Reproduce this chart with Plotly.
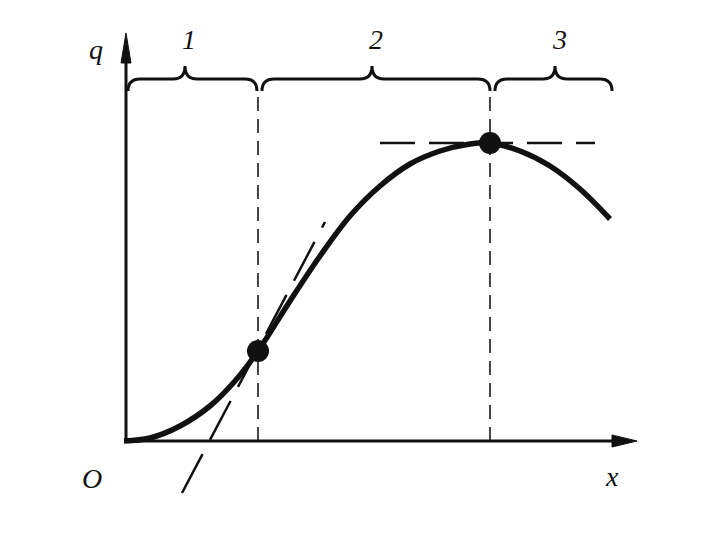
import plotly.graph_objects as go

# units: 1 unit = 1 screen pixel, origin at the axes corner
x_curve = [0, 26, 56, 86, 111, 134, 166, 196, 226, 256, 286, 316, 346, 366, 396, 426, 456, 486]
q_curve = [0, 3, 15, 35, 60, 90, 140, 185, 225, 255, 277, 290, 297, 298, 290, 275, 252, 222]

x_inflect, q_inflect = 134, 90
x_max, q_max = 366, 298

x_tangent = [58, 201]
q_tangent = [-52, 219]

x_flat = [256, 471]
q_flat = [q_max, q_max]

stage_bounds = [(4, 133), (138, 366), (371, 488)]
stage_tips = [61, 248, 431]
stage_labels = ["1", "2", "3"]

ink = "#111111"

fig = go.Figure()

fig.add_trace(go.Scatter(x=x_curve, y=q_curve, mode="lines", line=dict(color=ink, width=5.5, shape="spline")))
fig.add_trace(go.Scatter(x=x_tangent, y=q_tangent, mode="lines", line=dict(color=ink, width=2.5, dash="44px,16px")))
fig.add_trace(go.Scatter(x=x_flat, y=q_flat, mode="lines", line=dict(color=ink, width=2.5, dash="35px,14px")))
for xv in [x_inflect, x_max]:
    fig.add_trace(go.Scatter(x=[xv, xv], y=[0, 352], mode="lines",
                             line=dict(color="#333333", width=1.8, dash="14px,8px")))
fig.add_trace(go.Scatter(x=[x_inflect, x_max], y=[q_inflect, q_max], mode="markers",
                         marker=dict(color=ink, size=22)))

# axes with arrowheads
fig.add_shape(type="line", x0=0, y0=0, x1=500, y1=0, line=dict(color=ink, width=3))
fig.add_shape(type="line", x0=2, y0=0, x1=2, y1=395, line=dict(color=ink, width=3))
fig.add_shape(type="path", path="M 488,-6 L 513,0 L 488,6 Z", fillcolor=ink, line=dict(color=ink, width=1))
fig.add_shape(type="path", path="M -3,378 L 2,408 L 7,378 Z", fillcolor=ink, line=dict(color=ink, width=1))

# braces over the stages
yb, yt, ye, r = 362, 375, 350, 12
for (a, b), m, lab in zip(stage_bounds, stage_tips, stage_labels):
    p = (f"M {a},{ye} Q {a},{yb} {a + r},{yb} L {m - r},{yb} Q {m},{yb} {m},{yt} "
         f"Q {m},{yb} {m + r},{yb} L {b - r},{yb} Q {b},{yb} {b},{ye}")
    fig.add_shape(type="path", path=p, line=dict(color=ink, width=3))
    fig.add_annotation(x=m + 4, y=402, text=f"<i>{lab}</i>", showarrow=False,
                       font=dict(family="Liberation Serif", size=28, color=ink))

for txt, xv, yv in [("q", -28, 392), ("O", -32, -37), ("x", 488, -35)]:
    fig.add_annotation(x=xv, y=yv, text=f"<i>{txt}</i>", showarrow=False,
                       font=dict(family="Liberation Serif", size=28, color=ink))

# ranges offset by the page's 8px body margin
fig.update_layout(
    width=720, height=540,
    margin=dict(l=0, r=0, t=0, b=0),
    plot_bgcolor="white", paper_bgcolor="white",
    showlegend=False,
    xaxis=dict(range=[-116, 604], visible=False, fixedrange=True),
    yaxis=dict(range=[-107, 433], visible=False, fixedrange=True),
)

fig.write_html("out.html")
